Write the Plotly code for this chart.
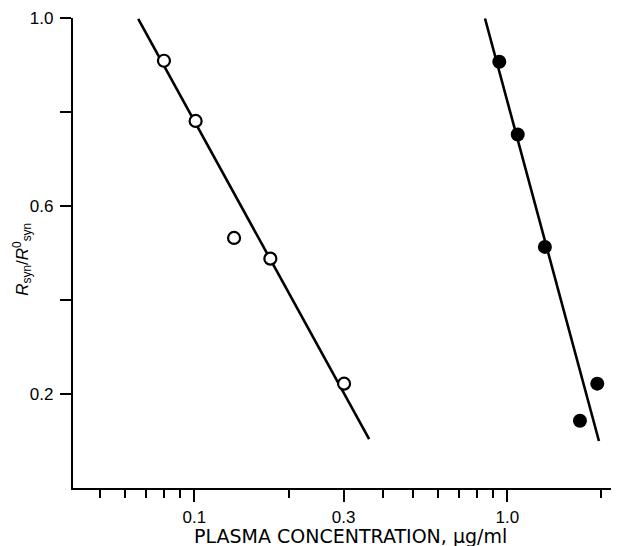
import plotly.graph_objects as go

# Open circles (first drug)
open_x = [0.080, 0.101, 0.134, 0.175, 0.301]
open_y = [0.909, 0.781, 0.532, 0.488, 0.222]
open_fit_x = [0.0662, 0.362]
open_fit_y = [0.998, 0.104]

# Filled circles (second drug)
filled_x = [0.943, 1.080, 1.319, 1.939, 1.707]
filled_y = [0.907, 0.752, 0.513, 0.222, 0.143]
filled_fit_x = [0.849, 1.963]
filled_fit_y = [0.999, 0.100]

x_major = [0.1, 0.3, 1.0]
x_major_text = ["0.1", "0.3", "1.0"]
x_minor = [0.05, 0.06, 0.07, 0.08, 0.09, 0.2, 0.4, 0.5, 0.6, 0.7, 0.8, 0.9, 2.0]
y_ticks = [0.2, 0.4, 0.6, 0.8, 1.0]
y_ticktext = ["0.2", "", "0.6", "", "1.0"]

x_title = "PLASMA CONCENTRATION, \u03bcg/ml"
y_title = "<i>R</i><sub>syn</sub>/<i>R</i><sup>0</sup><sub>syn</sub>"

fig = go.Figure()
fig.add_trace(go.Scatter(x=open_fit_x, y=open_fit_y, mode="lines",
                         line=dict(color="black", width=2.6), showlegend=False))
fig.add_trace(go.Scatter(x=filled_fit_x, y=filled_fit_y, mode="lines",
                         line=dict(color="black", width=2.6), showlegend=False))
fig.add_trace(go.Scatter(x=open_x, y=open_y, mode="markers",
                         marker=dict(symbol="circle", size=12, color="white",
                                     line=dict(color="black", width=2.2)),
                         showlegend=False, cliponaxis=False))
fig.add_trace(go.Scatter(x=filled_x, y=filled_y, mode="markers",
                         marker=dict(symbol="circle", size=14, color="black",
                                     line=dict(color="black", width=0)),
                         showlegend=False, cliponaxis=False))

# page body has an 8px default margin, so the figure is sized to fit the window
fig.update_layout(
    width=611, height=538,
    margin=dict(l=65, r=0, t=10, b=58, autoexpand=False),
    paper_bgcolor="white", plot_bgcolor="white",
    font=dict(family="Liberation Sans, Arial, sans-serif", color="black", size=16),
    annotations=[
        dict(text=x_title, xref="paper", yref="paper", x=0.509, y=-0.102,
             xanchor="center", yanchor="middle", showarrow=False,
             font=dict(family="DejaVu Sans, sans-serif", size=19, color="black")),
        dict(text=y_title, xref="paper", yref="paper", x=-0.094, y=0.487,
             xanchor="center", yanchor="middle", showarrow=False, textangle=-90,
             font=dict(family="Liberation Sans, Arial, sans-serif", size=17, color="black")),
    ],
)
fig.update_xaxes(
    type="log", range=[-1.3875, 0.357], automargin=False,
    showline=True, linecolor="black", linewidth=2.2,
    showgrid=False, zeroline=False,
    ticks="outside", ticklen=12, tickwidth=2, tickcolor="black",
    tickmode="array", tickvals=x_major, ticktext=x_major_text,
    tickfont=dict(size=17),
    minor=dict(ticks="outside", ticklen=8, tickwidth=2, tickcolor="black",
               tickmode="array", tickvals=x_minor, showgrid=False),
)
fig.update_yaxes(
    range=[0, 1.0], automargin=False,
    showline=True, linecolor="black", linewidth=2.2,
    showgrid=False, zeroline=False,
    ticks="outside", ticklen=11, tickwidth=2, tickcolor="black",
    tickmode="array", tickvals=y_ticks, ticktext=y_ticktext,
    tickfont=dict(size=17), ticklabelstandoff=3,
)

fig.write_html("out.html")
